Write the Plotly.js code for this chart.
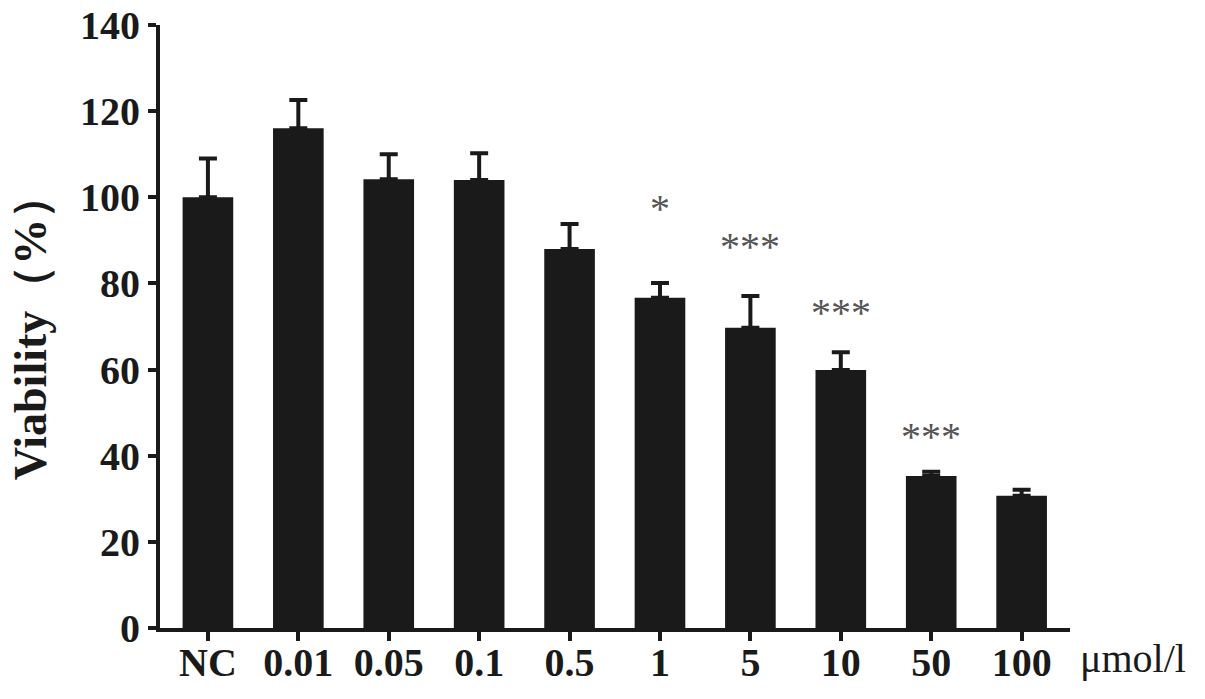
<!DOCTYPE html>
<html>
<head>
<meta charset="utf-8">
<script src="https://cdn.plot.ly/plotly-3.0.1.min.js"></script>
<style>html,body{margin:0;padding:0;background:#fff;}#chart{width:1205px;height:699px;}</style>
</head>
<body>
<div id="chart"></div>
<script>
const categories = ["NC", "0.01", "0.05", "0.1", "0.5", "1", "5", "10", "50", "100"];
const viability = [100, 116, 104.2, 104, 88, 76.7, 69.7, 59.9, 35.3, 30.7];
const sem = [9, 6.6, 5.8, 6.2, 5.8, 3.4, 7.4, 4.1, 1.0, 1.4];
const sigLabels = ["", "", "", "", "", "*", "***", "***", "***", ""];
const sigHeights = [null, null, null, null, null, 98.4, 89.4, 74.1, 45.5, null];
const yTicks = [0, 20, 40, 60, 80, 100, 120, 140];

const serif = "Liberation Serif, Times New Roman, serif";
const ink = "#1a1a1a";

const trace = {
  type: "bar",
  x: categories,
  y: viability,
  width: 0.56,
  marker: {color: ink, line: {width: 0}},
  error_y: {
    type: "data",
    symmetric: false,
    array: sem,
    arrayminus: sem.map(() => 0),
    color: ink,
    thickness: 4,
    width: 9
  },
  hoverinfo: "skip"
};

const annotations = [];
categories.forEach((c, i) => {
  if (sigLabels[i]) {
    annotations.push({
      x: i, y: sigHeights[i], xref: "x", yref: "y",
      text: sigLabels[i], showarrow: false,
      font: {family: serif, size: 40, color: "#555"},
      yanchor: "middle", xanchor: "center", yshift: -4
    });
  }
});
annotations.push({
  x: 1.0, xref: "paper", xanchor: "left", xshift: 8,
  y: 0, yref: "y", yanchor: "top", yshift: -6,
  text: "μmol/l", showarrow: false,
  font: {family: serif, size: 40, color: ink}
});

const layout = {
  width: 1205, height: 699,
  margin: {l: 160, r: 135, t: 25, b: 71},
  paper_bgcolor: "#fff", plot_bgcolor: "#fff",
  showlegend: false,
  xaxis: {
    type: "category",
    range: [-0.53, 9.535],
    showline: true, linecolor: ink, linewidth: 4,
    ticks: "outside", ticklen: 9, tickwidth: 4, tickcolor: ink,
    ticklabelstandoff: -13,
    tickfont: {family: serif, size: 40, color: ink, weight: "bold"},
    showgrid: false, zeroline: false, fixedrange: true
  },
  yaxis: {
    range: [0, 140],
    tickvals: yTicks,
    ticktext: yTicks.map(String),
    showline: true, linecolor: ink, linewidth: 4,
    ticks: "outside", ticklen: 8, tickwidth: 4, tickcolor: ink,
    tickfont: {family: serif, size: 40, color: ink, weight: "bold"},
    showgrid: false, zeroline: false, fixedrange: true,
    title: {text: "Viability（%）", font: {family: serif, size: 46, color: ink, weight: "bold"}, standoff: 20}
  },
  annotations: annotations
};

Plotly.newPlot("chart", [trace], layout, {displayModeBar: false, staticPlot: true});
</script>
</body>
</html>
